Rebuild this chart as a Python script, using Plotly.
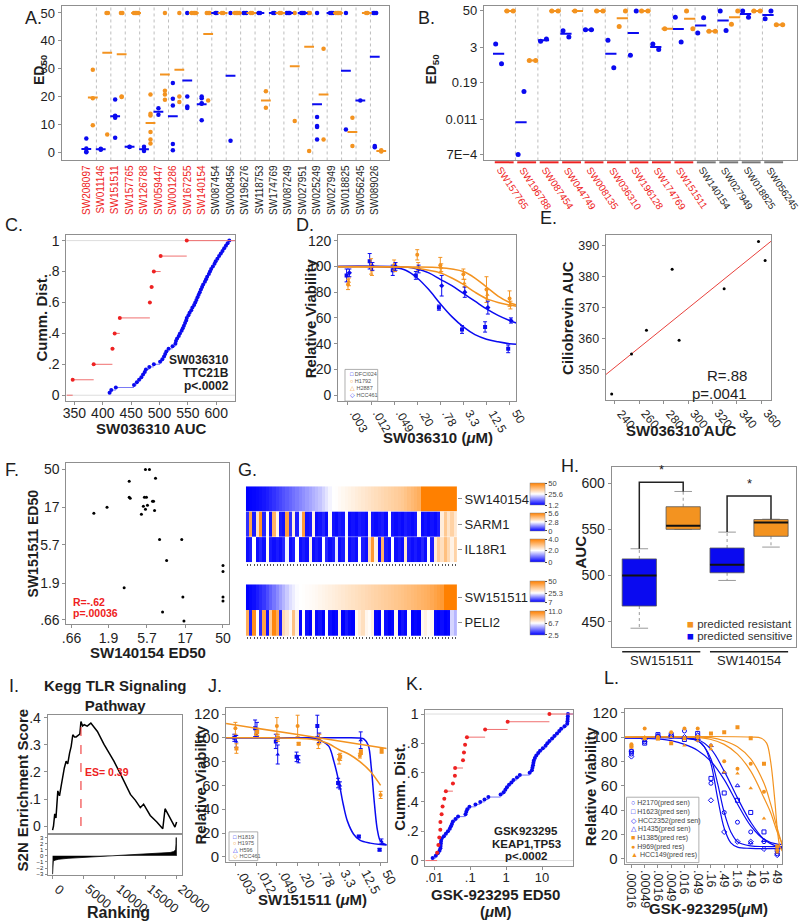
import numpy as np
import plotly.graph_objects as go

W, H = 800, 924
FONT = "Liberation Sans"
BLUE = "#0A0AF0"
ORANGE = "#F39320"
HMORANGE = "#FF8000"
RED = "#EE2222"
FRAME = "#8F8F8F"
TXT = "#1E1E1E"
GRIDC = "#BEBEBE"

# ---------------- DATA ----------------
# Panel A
A_compounds = ["SW208097", "SW011146", "SW151511", "SW157765", "SW126788", "SW059447", "SW001286",
               "SW167255", "SW140154", "SW087454", "SW008456", "SW196276", "SW118753", "SW174769",
               "SW087249", "SW027951", "SW025249", "SW027949", "SW018825", "SW056245", "SW089026"]
A_n_red = 9
A_blue = [[5.1, 1.5, 0.4, 0.1], [1.2, 1.0, 1.4], [19.0, 13.2, 13.0, 12.5, 5.3], [2.1, 2.0],
          [2.1, 1.2, 0.6], [15.9, 13.6], [24.9, 19.3, 16.9, 3.1, 0.9], [50, 20.1, 16.5, 16.0],
          [20.1, 19.5, 17.7, 11.6, 17.5], [50, 50], [50, 4.3], [50, 50, 50], [50, 50], [50, 50],
          [50, 50, 50], [50, 50, 50], [50, 12.8, 9.5, 9.2, 4.7], [50, 50, 50], [50, 8.3], [18.7],
          [50, 50, 50, 2.4, 1.9]]
A_blue_mean = [1.3, 1.2, 13.0, 2.1, 1.2, 14.6, 13.0, 25.8, 17.3, 50, 27.5, 50, 50, 50, 50, 50,
               17.3, 50, 29.3, 18.7, 34.3]
A_orange = [[29.7, 19.5, 9.8], [50, 50, 6.5], [50, 50, 20.1, 19.9], [50, 50, 50, 50],
            [20.8, 13.9, 13.3, 7.4, 4.7, 3.3], [50, 22.2, 20.8, 18.9], [50, 20.1, 18.1],
            [50, 50, 50, 50], [50, 50, 50, 18.7], [50, 50], [50, 50, 50, 50], [50, 50],
            [22.0, 16.1], [50, 50], [50, 11.3], [50, 50, 0.6], [37.2, 4.7], [50, 50, 50, 50],
            [12.5, 2.4], [50, 50], [0.9, 0.4, 0.6]]
A_orange_mean = [19.7, 35.8, 35.2, 50, 10.6, 28.0, 29.7, 50, 42.5, 50, 50, 50, 18.7, 50, 30.9,
                 37.9, 20.8, 50, 7.4, 50, 0.6]

# Panel B
B_compounds = ["SW157765", "SW196788", "SW087454", "SW044749", "SW008135", "SW036310", "SW196128",
               "SW174769", "SW151511", "SW140154", "SW027949", "SW018825", "SW056245"]
B_n_red = 9
B_blue = [[3.83, 0.82], [0.0007, 0.095], [4.7, 5.6], [10.7, 6.6], [11.6, 11.6], [5.07, 0.6],
          [1.6, 50], [3.83, 2.47], [30.7, 4.47], [8.95, 29.2], [50, 11], [50, 30.7], [27, 50]]
B_blue_mean = [1.77, 0.0087, 5.1, 8.4, 11.6, 1.77, 8.95, 3.04, 12.2, 16.1, 23.7, 39.7, 36.7]
B_orange = [[50, 50], [1.06, 1.06], [50, 50], [50], [50, 50], [14.9, 50], [50, 50], [12.5],
            [50, 12.5], [10.2, 10.2], [17.9, 50], [50, 50], [17, 17]]
B_orange_mean = [50, 1.06, 50, 50, 50, 28.5, 50, 12.5, 27, 10.2, 30.7, 50, 17]

# Panel C
C_red = [347, 384, 417, 421, 430, 483, 486, 490, 502, 548]
C_blue = [412, 415, 423, 455, 460, 464, 468, 471, 474, 476, 482, 490, 501, 505, 508, 510, 512, 516,
          523, 528, 529, 531, 534, 536, 539, 541, 543, 545, 547, 548, 551, 553, 556, 558, 561, 563,
          565, 567, 569, 571, 573, 575, 577, 580, 582, 584, 587, 589, 591, 594, 597, 599, 602, 605,
          608, 611, 614, 617, 620, 623]

# Panel D
D_doses = [".003", ".012", ".049", ".20", ".78", "3.3", "12.5", "50"]
D_DFCI024 = [93, 104, 97, 93, 68, 51, 53, 36]
D_DFCI024_err = [5, 6, 4, 3, 2, 3, 4, 3]
D_HCC461 = [95, 100, 100, 98, 85, 80, 68, 58]
D_HCC461_err = [3, 3, 3, 3, 8, 4, 5, 2]
D_H1792 = [86, 100, 101, 109, 101, 94, 82, 75]
D_H1792_err = [4, 6, 4, 4, 6, 4, 10, 6]
D_H2887 = [88, 97, 99, 100, 99, 87, 78, 70]
D_H2887_err = [3, 4, 3, 3, 3, 3, 4, 3]
D_fit_DFCI024_x = [-0.43, 1, 2, 2.5, 3, 3.5, 4, 4.5, 5, 5.5, 6, 6.5, 7, 7.3]
D_fit_DFCI024_y = [100, 100, 99, 97, 91, 82, 71, 61, 53, 47, 43.5, 41.5, 40, 39.5]
D_fit_HCC461_x = [-0.43, 2, 2.5, 3, 3.5, 4, 4.5, 5, 5.5, 6, 6.5, 7, 7.3]
D_fit_HCC461_y = [100, 100, 99.5, 98, 95, 90, 85, 79, 73, 67, 62, 58, 56]
D_fit_H1792_x = [-0.43, 3, 4, 4.5, 5, 5.5, 6, 6.5, 7, 7.3]
D_fit_H1792_y = [99.5, 99.5, 99, 98, 96, 91, 84, 77, 72, 70]
D_fit_H2887_x = [-0.43, 2.5, 3, 3.5, 4, 4.5, 5, 5.5, 6, 6.5, 7, 7.3]
D_fit_H2887_y = [100, 99.5, 98.5, 97, 95, 91, 86, 80, 75, 72, 70, 69]

# Panel E
E_sw036310 = [237.6, 253.8, 266.0, 292.7, 287.0, 329.5, 357.6, 363.0]
E_cilio = [342.0, 354.9, 362.6, 359.4, 382.3, 376.0, 391.3, 385.2]
E_ticks = [240, 260, 280, 300, 320, 340, 360]

# Panel F
F_sw140154 = [5.46, 6.12, 3.43, 7.28, 3.43, 3.53, 5.3, 5.61, 6.68, 6.88, 1.82, 1.25, 5.14, 5.78,
              5.46, 7.08, 4.86, 8.17, 15.4, 10.0, 50, 50, 2.97, 15.9, 50, 50, 8.9, 16.4]
F_sw151511 = [50, 50, 35.7, 39, 22.5, 21.9, 22.5, 22.5, 20, 20, 16.9, 14.2, 17.4, 17.9, 15.9, 15.4,
              13.8, 6.68, 6.68, 3.64, 3.15, 2.65, 1.67, 1.28, 1.28, 1.14, 0.83, 0.64]

# Panel G
G_top_rows = ["SW140154", "SARM1", "IL18R1"]
G_bottom_rows = ["SW151511", "PELI2"]
G_SW140154 = [1.2, 1.5, 1.8, 2.2, 2.6, 3.2, 4.0, 5.0, 6.0, 7.0, 8, 9, 10, 11, 12, 13, 14, 15, 16, 17,
              18, 19, 20, 21.5, 23, 24.5, 25.6, 25.8, 26.5, 27, 27.5, 28, 28.5, 29, 29.5, 30, 30.5,
              31, 31.5, 32, 32.5, 33, 33.5, 34, 34.5, 35, 35.5, 36, 37, 38, 39, 40, 41,
              50, 50, 50, 50, 50, 50, 50, 50, 50, 50, 50]
G_SARM1 = [0.5, 4.8, 0.3, 3.5, 5.2, 0.4, 2.9, 0.2, 4.5, 3.0, 0.3, 0.2, 4.9, 0.5, 3.2, 0.3, 2.6, 5.0,
           0.2, 0.3, 3.1, 0.1, 0.2, 0.4, 0.1, 2.9, 0.2, 0.1, 0.3, 0.2, 2.7, 0.1, 0.2, 0.1, 0.3, 0.2,
           0.1, 3.0, 0.2, 0.1, 0.2, 0.3, 0.1, 2.8, 0.2, 0.1, 0.2, 0.1, 0.3, 0.2, 0.1, 0.2, 2.9, 0.1,
           0.2, 0.1, 0.2, 0.1, 0.3, 3.2, 4.0, 3.4, 3.8, 3.3]
G_IL18R1 = [0.1, 0.2, 2.0, 0.1, 0.3, 0.1, 2.1, 0.2, 0.1, 0.2, 0.1, 0.3, 1.9, 0.1, 0.2, 2.0, 0.1, 0.2,
            0.1, 2.2, 0.1, 0.2, 0.1, 2.0, 0.3, 0.1, 0.2, 1.8, 0.1, 0.2, 2.1, 0.1, 0.2, 0.1, 2.0, 0.2,
            0.1, 2.6, 3.6, 2.2, 0.1, 3.2, 0.2, 0.1, 2.0, 0.1, 0.2, 0.1, 2.4, 0.2, 0.1, 0.2, 0.1, 0.3,
            0.1, 2.0, 0.2, 2.3, 2.8, 2.5, 3.0, 2.6, 2.2, 2.7]
G_SW151511 = [7, 7.5, 8, 9, 10, 11, 12.5, 14, 15.5, 17, 18.5, 20, 21.5, 23, 24, 25, 25.3, 25.5, 25.8,
              26, 26.3, 26.6, 27, 27.4, 27.8, 28.2, 28.6, 29, 29.4, 29.8, 30.2, 30.6, 31, 31.4, 31.8,
              32.2, 32.6, 33, 33.4, 33.8, 34.2, 34.6, 35, 35.4, 35.8, 36.2, 36.6, 37, 37.5, 38, 38.5,
              39, 39.5, 40, 40.5, 41, 42, 43, 44, 45, 50, 50, 50, 50]
G_PELI2 = [9.5, 3.0, 10.5, 6.7, 3.2, 9.8, 2.8, 8.5, 10.8, 9.6, 3.0, 8.0, 7.5, 6.9, 8.8, 7.2, 2.6, 6.8,
           2.7, 2.5, 7.0, 2.6, 2.8, 2.5, 6.6, 2.7, 2.5, 2.6, 7.1, 2.5, 2.9, 2.6, 2.5, 6.9, 7.4, 7.8,
           7.0, 6.8, 7.2, 2.6, 2.5, 6.8, 2.7, 2.5, 2.6, 7.0, 2.5, 2.8, 2.6, 6.7, 2.5, 2.6, 2.5, 6.9,
           7.2, 6.8, 7.0, 2.6, 2.5, 2.7, 2.5, 2.6, 6.0, 5.5]
G_scales = {"SW140154": (1.2, 25.6, 50, "1.2", "25.6", "50"),
            "SARM1": (0, 2.8, 5.6, "0", "2.8", "5.6"),
            "IL18R1": (0, 2.0, 4.0, "0", "2.0", "4.0"),
            "SW151511": (7, 25.3, 50, "7", "25.3", "50"),
            "PELI2": (2.5, 6.7, 11.0, "2.5", "6.7", "11.0")}

# Panel H
H_groups = ["SW151511", "SW140154"]
H_q1 = [467, 550, 503, 542.5]
H_med = [500, 554, 511.7, 557.4]
H_q3 = [518, 574.5, 529.8, 560.6]
H_lo = [443, 550, 494.7, 530.8]
H_hi = [529, 591, 547, 561]

# Panel I
I_rank = [0, 150, 350, 550, 850, 1120, 1400, 1650, 1900, 2190, 2450, 2750, 3010, 3270, 3550, 3810,
          4180, 4400, 4590, 4850, 5120, 5600, 6190, 7250, 8320, 9920, 10990, 12590, 13400, 14190,
          14720, 15790, 16860, 17820, 18190, 18600, 18990, 19630, 19790, 20060]
I_es = [-0.015, 0.0, 0.045, 0.03, 0.13, 0.112, 0.15, 0.192, 0.215, 0.24, 0.23, 0.27, 0.295, 0.338,
        0.33, 0.33, 0.338, 0.34, 0.387, 0.37, 0.375, 0.37, 0.381, 0.35, 0.302, 0.24, 0.192, 0.117,
        0.095, 0.068, 0.081, 0.039, 0.015, -0.01, 0.064, 0.045, 0.033, 0.002, -0.004, 0.015]
I_s2n_rank = [0, 10, 40, 120, 400, 1000, 2500, 5000, 7500, 10000, 12500, 15000, 17500, 19000, 19600,
              19900, 19980, 20000, 20020]
I_s2n = [-3.0, -1.5, -1.0, -0.85, -0.7, -0.55, -0.4, -0.25, -0.12, 0.0, 0.12, 0.25, 0.4, 0.55, 0.7,
         1.0, 2.0, 3.0, 0.0]
I_ticks = [0, 5000, 10000, 15000, 20000]

# Panel J
J_doses = [".003", ".012", ".049", ".20", ".78", "3.3", "12.5", "50"]
J_H1819 = [100, 108, 97, 84, 110, 62, 17, 6]
J_H1819_err = [3, 7, 6, 4, 9, 4, 1, 1]
J_H596 = [97, 107, 86, 82, 100, 60, 98, 13]
J_H596_err = [5, 6, 8, 3, 4, 3, 7, 2]
J_H1975 = [108, 103, 110, 110, 95, 82, 85, 52]
J_H1975_err = [5, 3, 7, 9, 4, 4, 2, 3]
J_HCC461 = [91, 105, 100, 95, 99, 84, 88, 89]
J_HCC461_err = [4, 3, 3, 1, 4, 3, 2, 2]
J_fit_H1819_x = [-0.45, 1, 2, 3, 3.8, 4.2, 4.5, 4.75, 5, 5.2, 5.4, 5.7, 6, 6.5, 7, 7.3]
J_fit_H1819_y = [100, 100, 100, 100, 99.5, 97, 93, 80, 62, 44, 30, 19, 14, 11.5, 10.3, 10]
J_fit_H596_x = [-0.45, 5, 6, 6.2, 6.4, 6.55, 6.7, 6.85, 7.0, 7.3]
J_fit_H596_y = [100, 100, 99.8, 99, 94, 75, 45, 22, 13, 10]
J_fit_H1975_x = [-0.45, 2, 3, 4, 4.5, 5, 5.5, 6, 6.5, 7]
J_fit_H1975_y = [100, 100, 99.6, 98, 95, 90, 86, 80, 72, 60]
J_fit_HCC461_x = [-0.45, 3, 7.3]
J_fit_HCC461_y = [112, 102.7, 91]

# Panel K
K_red = [0.012, 0.013, 0.0138, 0.0147, 0.0148, 0.016, 0.017, 0.019, 0.021, 0.033, 0.0375, 0.038,
         0.063, 0.067, 0.072, 0.081, 0.26, 1.1, 16]
K_blue = [0.009, 0.011, 0.0125, 0.014, 0.0148, 0.015, 0.0152, 0.0155, 0.016, 0.0185, 0.021, 0.024,
          0.027, 0.029, 0.031, 0.033, 0.039, 0.046, 0.074, 0.078, 0.083, 0.095, 0.14, 0.19, 0.25,
          0.32, 0.7, 0.85, 0.95, 1.05, 1.2, 1.4, 1.6, 2.0, 2.4, 4.5, 5.2, 5.4, 5.6, 5.75, 5.9, 6.3,
          6.9, 7.8, 8.8, 10.5, 12.5, 14, 16, 19, 22, 26, 30, 34, 42, 50, 51, 51.5, 52, 52.5]

# Panel L
L_doses = [".00016", ".00049", ".0016", ".0049", ".016", ".049", ".16", ".49", "1.6", "4.9", "16", "49"]
L_series = ["H2170(pred sen)", "H1623(pred sen)", "HCC2352(pred sen)", "H1435(pred sen)",
            "H1385(pred res)", "H969(pred res)", "HCC149(pred res)"]
L_values = [[86, 96, 101, 101, 105, 99, 62, 38, 30, 22, 14, 4],
            [88, 95, 102, 102, 98, 103, 66, 54, 48, 38, 22, 7],
            [84, 98, 100, 101, 100, 98, 48, 22, 14, 14, 8, 3],
            [89, 97, 101, 100, 99, 102, 93, 71, 60, 13, 15, 5],
            [92, 99, 99, 95, 99, 100, 103, 104, 108, 99, 78, 10],
            [94, 107, 100, 104, 107, 107, 93, 80, 74, 78, 55, 7],
            [93, 100, 98, 100, 93, 97, 90, 71, 70, 58, 33, 5]]
L_fit_x = [[-0.5, 4, 5, 5.5, 6, 6.5, 7, 7.5, 8, 9, 11.4],
           [-0.5, 4, 5, 5.5, 6, 6.5, 7, 7.5, 8, 9, 10, 11.4],
           [-0.5, 2, 3, 4, 5, 6, 7, 8, 9, 10, 11, 11.4],
           [-0.5, 4, 5, 6, 7, 8, 9, 10, 11, 11.4],
           [-0.5, 9, 9.8, 10.2, 10.5, 10.8, 11, 11.2, 11.4],
           [-0.5, 5, 6, 7, 8, 9, 10, 10.5, 11, 11.4],
           [-0.5, 6, 7, 8, 9, 10, 10.5, 11, 11.4]]
L_fit_y = [[99.5, 99, 97, 92, 78, 50, 25, 13, 9.5, 8.5, 8.5],
           [99.5, 99, 97, 92, 82, 62, 38, 22, 14, 10.5, 10, 10],
           [99, 98.5, 97, 94, 89, 80, 65, 45, 27, 16, 12, 12],
           [99.5, 99.3, 98, 90, 72, 50, 30, 16, 10, 9],
           [100, 100, 99, 95, 80, 50, 25, 10, 6],
           [100, 99.5, 98, 94, 86, 72, 50, 38, 22, 12],
           [100, 99.5, 97, 92, 82, 62, 45, 25, 10]]

# ---------------- FIGURE ----------------
fig = go.Figure()
lay = {}
annots = []
shapes = []


def axes(n, xpx, ypx, xkw=None, ykw=None):
    s = '' if n == 1 else str(n)
    base = dict(showgrid=False, zeroline=False, showline=True, mirror=True, linecolor=FRAME,
                linewidth=1, ticks='outside', ticklen=3, tickcolor=FRAME,
                tickfont=dict(size=13, color=TXT, family=FONT))
    xa = dict(base)
    xa.update(domain=[xpx[0] / W, xpx[1] / W], anchor='y' + s)
    ya = dict(base)
    ya.update(domain=[1 - ypx[1] / H, 1 - ypx[0] / H], anchor='x' + s)
    if xkw:
        xa.update(xkw)
    if ykw:
        ya.update(ykw)
    lay['xaxis' + s] = xa
    lay['yaxis' + s] = ya
    return 'x' + s, 'y' + s


def ann(text, x, y, size=14, bold=False, color=TXT, angle=0, xanchor='center', yanchor='middle'):
    if bold:
        text = "<b>" + text + "</b>"
    annots.append(dict(text=text, x=x / W, y=1 - y / H, xref='paper', yref='paper', showarrow=False,
                       font=dict(size=size, color=color, family=FONT), textangle=angle,
                       xanchor=xanchor, yanchor=yanchor))


def rot_ticks(xref, vals, texts, ypx, angle, size, dx=0.0, colors=None):
    # slanted tick labels that start at their tick and run down to the right
    for k, (v, t) in enumerate(zip(vals, texts)):
        col = colors[k] if colors else TXT
        annots.append(dict(text=t, x=v + dx, y=1 - ypx / H, xref=xref, yref='paper', showarrow=False,
                           textangle=angle, xanchor='left', yanchor='top',
                           font=dict(size=size, color=col, family=FONT)))


def tf(size):
    return dict(size=size, color=TXT, family=FONT)


def spread(vals, base, step):
    out = []
    n50 = sum(1 for v in vals if v >= 50)
    k = 0
    for v in vals:
        if v >= 50:
            out.append(base + (k - (n50 - 1) / 2) * step)
            k += 1
        else:
            out.append(base)
    return out


def seg_ecdf(xs, ys, x_end, x_start=None):
    sx, sy = [], []
    if x_start is not None:
        sx += [x_start, xs[0], None]
        sy += [0, 0, None]
    for i in range(len(xs)):
        nx = xs[i + 1] if i + 1 < len(xs) else x_end
        sx += [xs[i], nx, None]
        sy += [ys[i], ys[i], None]
    return sx, sy


def colored(labels, nred):
    return ["<span style='color:%s'>%s</span>" % (RED if i < nred else TXT, c) for i, c in enumerate(labels)]


# ---- Panel A ----
xa, ya = axes(1, (57, 387), (1, 157),
              dict(range=[-1.72, 20.96], tickvals=list(range(len(A_compounds))),
                   ticktext=colored(A_compounds, A_n_red), tickangle=-90, ticks='', tickfont=tf(10)),
              dict(range=[-2.8, 52.5], tickvals=[0, 10, 20, 30, 40, 50], tickfont=tf(13)))
for i in range(len(A_compounds) - 1):
    shapes.append(dict(type='line', xref=xa, yref='y domain', x0=i + 0.7, x1=i + 0.7, y0=0, y1=1,
                       line=dict(color=GRIDC, width=1, dash='dot'), layer='below'))
bx, by, ox, oy = [], [], [], []
for i, vals in enumerate(A_blue):
    bx += spread(vals, i, 0.1)
    by += vals
for i, vals in enumerate(A_orange):
    ox += spread(vals, i + 0.45, 0.1)
    oy += vals
fig.add_trace(go.Scatter(x=bx, y=by, mode='markers', xaxis=xa, yaxis=ya,
                         marker=dict(color=BLUE, size=4.5), showlegend=False))
fig.add_trace(go.Scatter(x=ox, y=oy, mode='markers', xaxis=xa, yaxis=ya,
                         marker=dict(color=ORANGE, size=4.5), showlegend=False))
fig.add_trace(go.Scatter(x=list(range(len(A_blue_mean))), y=A_blue_mean, mode='markers', xaxis=xa, yaxis=ya,
                         marker=dict(symbol='line-ew', size=7, color=BLUE, line=dict(color=BLUE, width=2)),
                         showlegend=False))
fig.add_trace(go.Scatter(x=[i + 0.45 for i in range(len(A_orange_mean))], y=A_orange_mean, mode='markers',
                         xaxis=xa, yaxis=ya,
                         marker=dict(symbol='line-ew', size=7, color=ORANGE, line=dict(color=ORANGE, width=2)),
                         showlegend=False))
ann("A.", 29, 13, size=18)
ann("ED<sub>50</sub>", 36, 65, size=14, bold=True, angle=-90)

# ---- Panel B ----
xa, ya = axes(2, (483, 799), (1, 157),
              dict(range=[-0.41, 13.54], showticklabels=False, ticks=''),
              dict(type='log', range=[-3.356, 1.866], tickvals=[50, 3, 0.19, 0.011, 0.0007],
                   ticktext=['50', '3', '0.19', '0.011', '7E\u22124'], tickfont=tf(13)))
rot_ticks(xa, list(range(len(B_compounds))), B_compounds, 159, 56, 9.8, dx=-0.05,
          colors=[RED if i < B_n_red else TXT for i in range(len(B_compounds))])
for i in range(1, len(B_compounds)):
    shapes.append(dict(type='line', xref=xa, yref='y2 domain', x0=i, x1=i, y0=0, y1=1,
                       line=dict(color=GRIDC, width=1, dash='dot'), layer='below'))
for i in range(len(B_compounds)):
    shapes.append(dict(type='line', xref=xa, yref='y2 domain', x0=i + 0.08, x1=i + 0.92, y0=-0.012, y1=-0.012,
                       line=dict(color=RED if i < B_n_red else '#777777', width=2)))
bx, by, ox, oy = [], [], [], []
for i, vals in enumerate(B_blue):
    for k, v in enumerate(vals):
        bx.append(i + [0.12, 0.38][k % 2])
        by.append(v)
for i, vals in enumerate(B_orange):
    for k, v in enumerate(vals):
        ox.append(i + ([0.62, 0.9][k % 2] if len(vals) > 1 else 0.65))
        oy.append(v)
fig.add_trace(go.Scatter(x=bx, y=by, mode='markers', xaxis=xa, yaxis=ya,
                         marker=dict(color=BLUE, size=5), showlegend=False))
fig.add_trace(go.Scatter(x=ox, y=oy, mode='markers', xaxis=xa, yaxis=ya,
                         marker=dict(color=ORANGE, size=5), showlegend=False))
fig.add_trace(go.Scatter(x=[i + 0.25 for i in range(len(B_blue_mean))], y=B_blue_mean, mode='markers',
                         xaxis=xa, yaxis=ya,
                         marker=dict(symbol='line-ew', size=8, color=BLUE, line=dict(color=BLUE, width=2)),
                         showlegend=False))
fig.add_trace(go.Scatter(x=[i + 0.76 for i in range(len(B_orange_mean))], y=B_orange_mean, mode='markers',
                         xaxis=xa, yaxis=ya,
                         marker=dict(symbol='line-ew', size=8, color=ORANGE, line=dict(color=ORANGE, width=2)),
                         showlegend=False))
ann("B.", 425, 13, size=18)
ann("ED<sub>50</sub>", 431, 65, size=14, bold=True, angle=-90)

# ---- Panel C ----
ecdf_ticks = dict(tickvals=[0, 0.2, 0.4, 0.6, 0.8, 1], ticktext=['0', '.2', '.4', '.6', '.8', '1'])
ykw = dict(range=[-0.038, 1.038], tickfont=tf(14))
ykw.update(ecdf_ticks)
xa, ya = axes(3, (62, 232), (232, 400),
              dict(range=[336, 633], tickvals=[350, 400, 450, 500, 550, 600], tickfont=tf(14),
                   ticklabelstandoff=-4), ykw)
for yv in (0, 1):
    shapes.append(dict(type='line', xref='x3 domain', yref=ya, x0=0, x1=1, y0=yv, y1=yv,
                       line=dict(color='#DDDDDD', width=1), layer='below'))
cb_y = [(i + 1) / len(C_blue) for i in range(len(C_blue))]
sx, sy = seg_ecdf(C_blue, cb_y, 633)
fig.add_trace(go.Scatter(x=sx, y=sy, mode='lines', xaxis=xa, yaxis=ya,
                         line=dict(color='#7A7AF5', width=1), showlegend=False))
fig.add_trace(go.Scatter(x=C_blue, y=cb_y, mode='markers', xaxis=xa, yaxis=ya,
                         marker=dict(color=BLUE, size=4), showlegend=False))
cr_y = [(i + 1) / len(C_red) for i in range(len(C_red))]
sx, sy = seg_ecdf(C_red, cr_y, 633, 336)
fig.add_trace(go.Scatter(x=sx, y=sy, mode='lines', xaxis=xa, yaxis=ya,
                         line=dict(color='#F07070', width=1), showlegend=False))
fig.add_trace(go.Scatter(x=C_red, y=cr_y, mode='markers', xaxis=xa, yaxis=ya,
                         marker=dict(color=RED, size=4), showlegend=False))
ann("C.", 9, 222, size=18)
ann("Cumm. Dist.", 37, 316, size=15, bold=True, angle=-90)
ann("SW036310 AUC", 147, 428, size=15, bold=True)
ann("SW036310", 228, 358, size=12, bold=True, xanchor='right')
ann("TTC21B", 228, 372, size=12, bold=True, xanchor='right')
ann("p<.0002", 228, 385, size=12, bold=True, xanchor='right')

# ---- Panel D ----
xa, ya = axes(4, (336, 516), (232, 400),
              dict(range=[-0.43, 7.3], tickvals=list(range(len(D_doses))), showticklabels=False),
              dict(range=[-4.6, 124.6], tickvals=[0, 20, 40, 60, 80, 100, 120], tickfont=tf(14)))
rot_ticks(xa, list(range(len(D_doses))), D_doses, 404, 60, 12, dx=-0.15)
idx = list(range(len(D_doses)))
for vals, err, col, sym, off in [(D_DFCI024, D_DFCI024_err, BLUE, 'square', -0.06),
                                 (D_H1792, D_H1792_err, ORANGE, 'circle', 0.0),
                                 (D_H2887, D_H2887_err, ORANGE, 'triangle-up', 0.04),
                                 (D_HCC461, D_HCC461_err, BLUE, 'diamond', 0.06)]:
    fig.add_trace(go.Scatter(x=[i + off for i in idx], y=vals, mode='markers', xaxis=xa, yaxis=ya,
                             marker=dict(color=col, size=4, symbol=sym),
                             error_y=dict(type='data', array=err, color=col, thickness=1, width=2),
                             showlegend=False))
for fx, fy, col in [(D_fit_DFCI024_x, D_fit_DFCI024_y, BLUE), (D_fit_HCC461_x, D_fit_HCC461_y, BLUE),
                    (D_fit_H1792_x, D_fit_H1792_y, ORANGE), (D_fit_H2887_x, D_fit_H2887_y, ORANGE)]:
    fig.add_trace(go.Scatter(x=fx, y=fy, mode='lines', line=dict(color=col, width=1.5, shape='spline'),
                             xaxis=xa, yaxis=ya, showlegend=False))
shapes.append(dict(type='rect', xref='paper', yref='paper', x0=343 / W, x1=376 / W, y0=1 - 400 / H,
                   y1=1 - 368 / H, line=dict(color='#9A9A9A', width=0.8)))
for k, (sym, col, name) in enumerate([("\u25a1", BLUE, "DFCI024"), ("\u25cb", ORANGE, "H1792"),
                                      ("\u25b3", ORANGE, "H2887"), ("\u25c7", BLUE, "HCC461")]):
    ann("<span style='color:%s'>%s</span> %s" % (col, sym, name), 346, 373 + 7 * k, size=5.5,
        color='#555555', xanchor='left')
ann("D.", 303, 222, size=18)
ann("Relative Viability", 309, 316, size=15, bold=True, angle=-90)
ann("SW036310 (<i>\u03bc</i>M)", 437, 437, size=15, bold=True)

# ---- Panel E ----
xa, ya = axes(5, (606, 773), (232, 399),
              dict(range=[232.7, 368], tickvals=E_ticks, showticklabels=False),
              dict(range=[340, 393.5], tickvals=[350, 360, 370, 380, 390], tickfont=tf(12.5)))
rot_ticks(xa, E_ticks, [str(t) for t in E_ticks], 403, 50, 12, dx=-3)
slope, icpt = np.polyfit(E_sw036310, E_cilio, 1)
lx = [232.7, 368]
fig.add_trace(go.Scatter(x=lx, y=[float(slope * v + icpt) for v in lx], mode='lines', xaxis=xa, yaxis=ya,
                         line=dict(color='#E8413C', width=1), showlegend=False))
fig.add_trace(go.Scatter(x=E_sw036310, y=E_cilio, mode='markers', xaxis=xa, yaxis=ya,
                         marker=dict(color='black', size=3), showlegend=False))
ann("E.", 548, 215, size=18)
ann("Ciliobrevin AUC", 568, 316, size=15, bold=True, angle=-90)
ann("SW036310 AUC", 682, 430, size=15, bold=True)
ann("R=.88", 751, 374, size=15, xanchor='right')
ann("p=.0041", 751, 392, size=15, xanchor='right')

# ---- Panel F ----
fticks = dict(tickvals=[0.66, 1.9, 5.7, 17, 50], ticktext=['.66', '1.9', '5.7', '17', '50'])
fx_kw = dict(type='log', range=[-0.243, 1.774], tickfont=tf(14), ticklabelstandoff=-2)
fx_kw.update(fticks)
fy_kw = dict(type='log', range=[-0.23, 1.774], tickfont=tf(14))
fy_kw.update(fticks)
xa, ya = axes(6, (62, 226), (463, 625), fx_kw, fy_kw)
fig.add_trace(go.Scatter(x=F_sw140154, y=F_sw151511, mode='markers', xaxis=xa, yaxis=ya,
                         marker=dict(color='black', size=3), showlegend=False))
ann("F.", 7, 470, size=18)
ann("SW151511 ED50", 28, 544, size=14, bold=True, angle=-90)
ann("SW140154 ED50", 144, 654, size=15, bold=True)
ann("R=-.62", 67, 603, size=10.5, bold=True, color=RED, xanchor='left')
ann("p=.00036", 67, 614, size=10.5, bold=True, color=RED, xanchor='left')

# ---- Panel G ----
NCOL = len(G_SW140154)


def hm_axes(n, ypx, labels):
    nrows = len(labels)
    return axes(n, (243, 456), ypx,
                dict(range=[-0.5, NCOL - 0.5], showline=False, mirror=False,
                     tickvals=list(range(NCOL)), showticklabels=False, ticklen=2,
                     tickcolor='#555555'),
                dict(side='right', showline=False, mirror=False, range=[-0.5, nrows - 0.5],
                     tickvals=list(range(nrows))[::-1], ticktext=labels,
                     ticklen=4, tickfont=tf(13)))


def hm_trace(row, vals, ypos, xa, ya, cb_center, cb_len):
    lo, mid, hi, tlo, tmid, thi = G_scales[row]
    wpos = (mid - lo) / (hi - lo)
    cs = [[0, '#0000FF'], [wpos, '#FFFFFF'], [1, HMORANGE]]
    fig.add_trace(go.Heatmap(z=[vals], x=list(range(len(vals))), y=[ypos], xaxis=xa, yaxis=ya,
                             colorscale=cs, zmin=lo, zmax=hi, showscale=True,
                             colorbar=dict(x=530 / W, xanchor='left', xpad=0, y=1 - cb_center / H,
                                           yanchor='middle', ypad=0, len=cb_len, lenmode='pixels',
                                           thickness=15, thicknessmode='pixels',
                                           tickvals=[lo, mid, hi], ticktext=[tlo, tmid, thi],
                                           tickfont=dict(size=7.5, color='#444444', family=FONT),
                                           ticks='outside', ticklen=2, outlinewidth=0.5,
                                           outlinecolor='#888888')))


xa, ya = hm_axes(7, (486, 563), G_top_rows)
hm_trace("SW140154", G_SW140154, 2, xa, ya, 494, 22)
hm_trace("SARM1", G_SARM1, 1, xa, ya, 522, 18)
hm_trace("IL18R1", G_IL18R1, 0, xa, ya, 551, 23)
xa, ya = hm_axes(8, (585, 637), G_bottom_rows)
hm_trace("SW151511", G_SW151511, 1, xa, ya, 592.5, 21)
hm_trace("PELI2", G_PELI2, 0, xa, ya, 624, 24)
ann("G.", 245, 470, size=18)

# ---- Panel H ----
xa, ya = axes(9, (612, 798), (467, 648),
              dict(range=[0.37, 4.57], ticks='', showticklabels=False),
              dict(range=[423, 617], tickvals=[450, 500, 550, 600], tickfont=tf(14)))
H_fill = [BLUE, ORANGE, BLUE, ORANGE]
HW = 0.39
for k in range(4):
    p = k + 1
    fig.add_trace(go.Scatter(x=[p, p, None, p, p], y=[H_q3[k], H_hi[k], None, H_q1[k], H_lo[k]],
                             mode='lines', xaxis=xa, yaxis=ya, line=dict(color='#999999', width=1, dash='dot'),
                             showlegend=False))
    fig.add_trace(go.Scatter(x=[p - 0.2, p + 0.2, None, p - 0.2, p + 0.2],
                             y=[H_hi[k], H_hi[k], None, H_lo[k], H_lo[k]], mode='lines', xaxis=xa, yaxis=ya,
                             line=dict(color='#999999', width=1), showlegend=False))
    fig.add_trace(go.Scatter(x=[p - HW, p + HW, p + HW, p - HW, p - HW],
                             y=[H_q1[k], H_q1[k], H_q3[k], H_q3[k], H_q1[k]], mode='lines', fill='toself',
                             fillcolor=H_fill[k], xaxis=xa, yaxis=ya, line=dict(color='#555555', width=0.8),
                             showlegend=False))
    fig.add_trace(go.Scatter(x=[p - HW, p + HW], y=[H_med[k], H_med[k]], mode='lines', xaxis=xa, yaxis=ya,
                             line=dict(color='#111111', width=2), showlegend=False))
for (a, b), lvl in [((0, 1), 601), ((2, 3), 586)]:
    fig.add_trace(go.Scatter(x=[a + 1, a + 1, b + 1, b + 1], y=[H_hi[a], lvl, lvl, H_hi[b]], mode='lines',
                             xaxis=xa, yaxis=ya, line=dict(color='#222222', width=1.5), showlegend=False))
    annots.append(dict(text="*", x=(a + b) / 2 + 1, y=lvl + 3, xref=xa, yref=ya, showarrow=False,
                       font=dict(size=13, color=TXT, family=FONT), yanchor='bottom'))
for g, (a, b) in enumerate([(0, 1), (2, 3)]):
    shapes.append(dict(type='line', xref=xa, yref='paper', x0=a + 1 - HW, x1=b + 1 + HW,
                       y0=1 - 653 / H, y1=1 - 653 / H, line=dict(color='#222222', width=1.5)))
    annots.append(dict(text=H_groups[g], x=(a + b) / 2 + 1, y=1 - 662 / H, xref=xa, yref='paper',
                       showarrow=False, font=dict(size=13, color=TXT, family=FONT), yanchor='middle'))
ann("<span style='color:%s'>\u25a0</span> predicted resistant" % ORANGE, 686, 625, size=11.5,
    color='#333333', xanchor='left')
ann("<span style='color:%s'>\u25a0</span> predicted sensitive" % BLUE, 686, 637, size=11.5,
    color='#333333', xanchor='left')
ann("H.", 570, 466, size=18)
ann("AUC", 581, 552, size=15, bold=True, angle=-90)

# ---- Panel I ----
xa, ya = axes(10, (43, 179), (717, 837),
              dict(range=[-800, 21000], showticklabels=False, ticks=''),
              dict(range=[-0.029, 0.411], tickvals=[0, 0.1, 0.2, 0.3, 0.4],
                   ticktext=['0', '.1', '.2', '.3', '.4'], tickfont=tf(14)))
fig.add_trace(go.Scatter(x=I_rank, y=I_es, mode='lines', xaxis=xa, yaxis=ya,
                         line=dict(color='black', width=1.5), showlegend=False))
pk = int(np.argmax(I_es))
fig.add_trace(go.Scatter(x=[I_rank[pk], I_rank[pk]], y=[0, I_es[pk]], mode='lines', xaxis=xa, yaxis=ya,
                         line=dict(color=RED, width=1, dash='dash'), showlegend=False))
annots.append(dict(text="<b>ES= %.2f</b>" % I_es[pk], x=I_rank[pk] + 300, y=0.2, xref=xa, yref=ya,
                   showarrow=False, xanchor='left', font=dict(size=10.5, color=RED, family=FONT)))
xa2, ya2 = axes(11, (43, 179), (837, 879),
                dict(range=[-800, 21000], tickvals=I_ticks, showticklabels=False),
                dict(range=[-3.2, 3.6], tickvals=[3, 2, 1, 0, -1, -2, -3], tickfont=tf(6), ticklen=2))
rot_ticks(xa2, I_ticks, [str(t) for t in I_ticks], 882, 40, 13, dx=-600)
fig.add_trace(go.Scatter(x=I_s2n_rank, y=I_s2n, mode='lines', fill='tozeroy', fillcolor='black',
                         xaxis=xa2, yaxis=ya2, line=dict(color='black', width=0.8), showlegend=False))
ann("I.", 9, 688, size=18)
ann("Kegg TLR Signaling<br>Pathway", 111, 697, size=15, bold=True)
ann("Enrichment Score", 18, 776, size=15, bold=True, angle=-90)
ann("S2N", 18, 860, size=15, bold=True, angle=-90)
ann("Ranking", 114, 916, size=16, bold=True)

# ---- Panel J ----
xa, ya = axes(12, (223, 385), (710, 865),
              dict(range=[-0.45, 7.29], tickvals=list(range(len(J_doses))), showticklabels=False),
              dict(range=[-4, 125], tickvals=[0, 20, 40, 60, 80, 100, 120], tickfont=tf(15)))
rot_ticks(xa, list(range(len(J_doses))), J_doses, 868, 62, 13, dx=-0.22)
jidx = list(range(len(J_doses)))
for vals, err, col, sym, off in [(J_H1819, J_H1819_err, BLUE, 'square', -0.05),
                                 (J_H1975, J_H1975_err, ORANGE, 'circle', 0.0),
                                 (J_H596, J_H596_err, BLUE, 'triangle-up', 0.04),
                                 (J_HCC461, J_HCC461_err, ORANGE, 'square', 0.05)]:
    fig.add_trace(go.Scatter(x=[i + off for i in jidx], y=vals, mode='markers', xaxis=xa, yaxis=ya,
                             marker=dict(color=col, size=4, symbol=sym),
                             error_y=dict(type='data', array=err, color=col, thickness=1, width=2),
                             showlegend=False))
for fx, fy, col in [(J_fit_H1819_x, J_fit_H1819_y, BLUE), (J_fit_H596_x, J_fit_H596_y, BLUE),
                    (J_fit_H1975_x, J_fit_H1975_y, ORANGE), (J_fit_HCC461_x, J_fit_HCC461_y, ORANGE)]:
    fig.add_trace(go.Scatter(x=fx, y=fy, mode='lines', line=dict(color=col, width=1.5, shape='spline'),
                             xaxis=xa, yaxis=ya, showlegend=False))
shapes.append(dict(type='rect', xref='paper', yref='paper', x0=226 / W, x1=255 / W, y0=1 - 864 / H,
                   y1=1 - 835 / H, line=dict(color='#9A9A9A', width=0.8)))
for k, (sym, col, name) in enumerate([("\u25a1", BLUE, "H1819"), ("\u25cb", ORANGE, "H1975"),
                                      ("\u25b3", BLUE, "H596"), ("\u25c7", ORANGE, "HCC461")]):
    ann("<span style='color:%s'>%s</span> %s" % (col, sym, name), 228, 840 + 6.5 * k, size=5.5,
        color='#555555', xanchor='left')
ann("J.", 212, 688, size=18)
ann("Relative Viability", 197, 787, size=15, bold=True, angle=-90)
ann("SW151511 (<i>\u03bc</i>M)", 310, 903, size=15, bold=True)

# ---- Panel K ----
ykw = dict(range=[-0.034, 1.027], tickfont=tf(14))
ykw.update(ecdf_ticks)
xa, ya = axes(13, (424, 573), (712, 869),
              dict(type='log', range=[-2.25, 1.86], tickvals=[0.01, 0.1, 1, 10],
                   ticktext=['.01', '.1', '1', '10'], tickfont=tf(13), ticklabelstandoff=-3), ykw)
for yv in (0, 1):
    shapes.append(dict(type='line', xref='x13 domain', yref=ya, x0=0, x1=1, y0=yv, y1=yv,
                       line=dict(color='#DDDDDD', width=1), layer='below'))
kb_y = [(i + 1) / len(K_blue) for i in range(len(K_blue))]
sx, sy = seg_ecdf(K_blue, kb_y, 10 ** 1.86)
fig.add_trace(go.Scatter(x=sx, y=sy, mode='lines', xaxis=xa, yaxis=ya,
                         line=dict(color='#7A7AF5', width=1), showlegend=False))
fig.add_trace(go.Scatter(x=K_blue, y=kb_y, mode='markers', xaxis=xa, yaxis=ya,
                         marker=dict(color=BLUE, size=4), showlegend=False))
kr_y = [(i + 1) / len(K_red) for i in range(len(K_red))]
sx, sy = seg_ecdf(K_red, kr_y, 10 ** 1.86, 10 ** -2.25)
fig.add_trace(go.Scatter(x=sx, y=sy, mode='lines', xaxis=xa, yaxis=ya,
                         line=dict(color='#F07070', width=1), showlegend=False))
fig.add_trace(go.Scatter(x=K_red, y=kr_y, mode='markers', xaxis=xa, yaxis=ya,
                         marker=dict(color=RED, size=4), showlegend=False))
ann("K.", 413, 686, size=18)
ann("Cumm. Dist.", 398, 790, size=15, bold=True, angle=-90)
ann("GSK-923295 ED50", 495, 898, size=15, bold=True)
ann("(<i>\u03bc</i>M)", 495, 915, size=15, bold=True)
ann("GSK923295", 526, 834, size=11.5, bold=True)
ann("KEAP1,TP53", 526, 847, size=11.5, bold=True)
ann("p<.0002", 526, 859, size=11.5, bold=True)

# ---- Panel L ----
xa, ya = axes(14, (625, 784), (711, 867),
              dict(range=[-0.52, 11.37], tickvals=list(range(len(L_doses))), ticktext=L_doses,
                   tickangle=90, tickfont=tf(12.5)),
              dict(range=[-4, 123], tickvals=[0, 20, 40, 60, 80, 100, 120], tickfont=tf(15)))
L_colors = [BLUE, BLUE, BLUE, BLUE, ORANGE, ORANGE, ORANGE]
L_symbols = ['circle-open', 'square-open', 'diamond-open', 'triangle-up-open', 'square', 'circle', 'triangle-up']
L_glyph = ["\u25cb", "\u25a1", "\u25c7", "\u25b3", "\u25a0", "\u25cf", "\u25b2"]
lidx = list(range(len(L_doses)))
for k in range(len(L_series)):
    fig.add_trace(go.Scatter(x=L_fit_x[k], y=L_fit_y[k], mode='lines', xaxis=xa, yaxis=ya,
                             line=dict(color=L_colors[k], width=1.2, shape='spline'), showlegend=False))
for k in range(len(L_series)):
    fig.add_trace(go.Scatter(x=lidx, y=L_values[k], mode='markers', xaxis=xa, yaxis=ya,
                             marker=dict(color=L_colors[k], size=4, symbol=L_symbols[k]), showlegend=False))
shapes.append(dict(type='rect', xref='paper', yref='paper', x0=627 / W, x1=700 / W, y0=1 - 866 / H,
                   y1=1 - 800 / H, line=dict(color='#9A9A9A', width=0.8),
                   fillcolor='rgba(255,255,255,0.85)'))
for k, name in enumerate(L_series):
    ann("<span style='color:%s'>%s</span> %s" % (L_colors[k], L_glyph[k], name), 630, 806 + 8.8 * k,
        size=7, color='#444444', xanchor='left')
ann("L.", 612, 680, size=18)
ann("Relative Viability", 590, 789, size=15, bold=True, angle=-90)
ann("GSK-923295(<i>\u03bc</i>M)", 710, 912, size=15, bold=True)

lay.update(dict(width=W, height=H, margin=dict(l=0, r=0, t=0, b=0), autosize=False,
                paper_bgcolor='white', plot_bgcolor='white', showlegend=False,
                font=dict(family=FONT, color=TXT), annotations=annots, shapes=shapes))
fig.update_layout(**lay)
fig.write_html("out.html", config={'displayModeBar': False},
               post_script="document.body.style.margin='0';document.body.style.padding='0';"
                           "document.documentElement.style.overflow='hidden';")
